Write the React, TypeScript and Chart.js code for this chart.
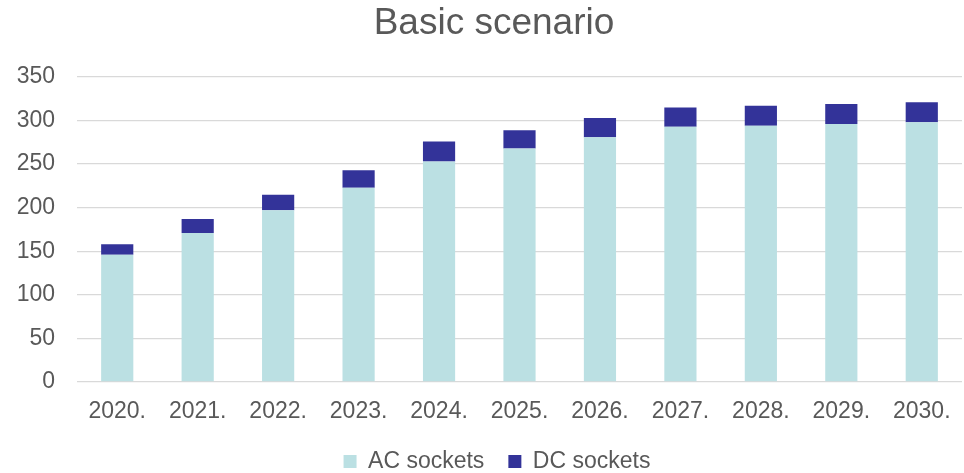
import React, { useEffect, useRef } from "react";
import { Chart, registerables } from "chart.js";

Chart.register(...registerables);

const categories = ["2020.", "2021.", "2022.", "2023.", "2024.", "2025.", "2026.", "2027.", "2028.", "2029.", "2030."];
const acSockets = [146, 171, 197, 223, 253, 268, 281, 293, 294, 296, 298];
const dcSockets = [12, 16, 18, 20, 23, 21, 22, 22, 23, 23, 23];
const yTicks = [0, 50, 100, 150, 200, 250, 300, 350];

const FONT = "'Liberation Sans', Arial, sans-serif";
const TEXT = "#595959";

const boxShift = {
  id: "boxShift",
  afterLayout(chart: any) {
    const lg = chart.legend;
    if (lg) {
      lg.top += 10;
      lg.bottom += 10;
      lg.left += 16;
      lg.right += 16;
    }
    const tb = chart.titleBlock;
    if (tb) {
      tb.left += 13;
      tb.right += 13;
    }
    const x = chart.scales.x;
    if (x) {
      x.bottom += 14;
    }
  },
};

export default function App() {
  const ref = useRef<HTMLCanvasElement | null>(null);
  useEffect(() => {
    document.body.style.margin = "0";
    if (!ref.current) return;
    const chart = new Chart(ref.current, {
      type: "bar",
      data: {
        labels: categories,
        datasets: [
          { label: "AC sockets", data: acSockets, backgroundColor: "#bbe0e3", barPercentage: 0.4, categoryPercentage: 1 },
          { label: "DC sockets", data: dcSockets, backgroundColor: "#333399", barPercentage: 0.4, categoryPercentage: 1 },
        ],
      },
      plugins: [boxShift],
      options: {
        animation: false,
        responsive: false,
        maintainAspectRatio: false,
        layout: { padding: { left: 0, right: 2, top: 0, bottom: 0 } },
        plugins: {
          tooltip: { enabled: false },
          title: {
            display: true,
            text: "Basic scenario",
            color: TEXT,
            font: { family: FONT, size: 37, weight: "normal" },
            padding: { top: 1.5, bottom: 31.1 },
          },
          legend: {
            position: "bottom",
            labels: {
              color: TEXT,
              font: { family: FONT, size: 23 },
              boxWidth: 13,
              boxHeight: 13,
              padding: 24,
            },
          },
        },
        scales: {
          x: {
            stacked: true,
            grid: { display: false },
            border: { display: false },
            ticks: { color: TEXT, font: { family: FONT, size: 23 }, padding: 8, maxRotation: 0 },
            afterFit: (s: any) => { s.height = 34; },
          },
          y: {
            stacked: true,
            min: 0,
            max: 350,
            afterBuildTicks: (s: any) => { s.ticks = yTicks.map((v) => ({ value: v })); },
            grid: { color: "#d9d9d9", lineWidth: 1.3, drawTicks: false },
            border: { display: false },
            ticks: { color: TEXT, font: { family: FONT, size: 23 }, padding: 22 },
            afterFit: (s: any) => { s.width = 77; },
          },
        },
      },
    });
    return () => chart.destroy();
  }, []);
  return (
    <div style={{ width: 964, height: 473 }}>
      <canvas ref={ref} width={964} height={473} style={{ display: "block" }} />
    </div>
  );
}
